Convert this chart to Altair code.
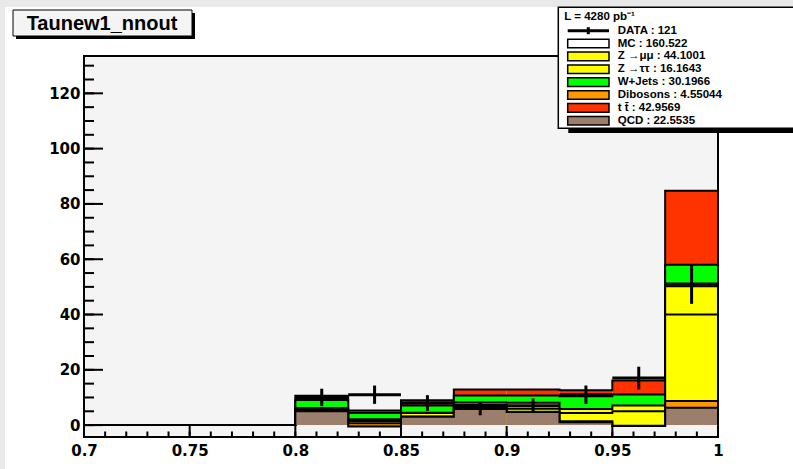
import altair as alt
import numpy as np
import pandas as pd

# ---- histogram binning (NN output, 0.025 wide bins) ----
bin_lo = [0.700, 0.725, 0.750, 0.775, 0.800, 0.825, 0.850, 0.875, 0.900, 0.925, 0.950, 0.975]
bin_hi = [0.725, 0.750, 0.775, 0.800, 0.825, 0.850, 0.875, 0.900, 0.925, 0.950, 0.975, 1.000]

# ---- MC contributions per bin, listed from the bottom of the stack upwards ----
qcd      = [0, 0, 0, 0, 5.0, -0.5, 3.0, 6.6, 4.7, 1.0, -0.3, 6.3]
dibosons = [0, 0, 0, 0, 0.1, 1.2, 0.1, 0.3, 0.1, 0.4, 0.1, 2.4]
z_mumu   = [0, 0, 0, 0, 0.4, 0.8, 1.3, 0.5, 1.1, 3.0, 5.2, 31.3]
z_tautau = [0, 0, 0, 0, 0.7, 0.6, 0.1, 0.8, 2.2, 1.4, 2.1, 10.2]
w_jets   = [0, 0, 0, 0, 2.9, 2.3, 2.6, 2.5, 2.6, 4.6, 4.0, 7.8]
ttbar    = [0, 0, 0, 0, 1.5, 0.9, 1.9, 2.2, 2.2, 2.2, 5.0, 26.8]

# ---- observed events per bin ----
data_counts = [0, 0, 0, 0, 10, 11, 8, 6, 7, 11, 17, 51]

# ---- stack colours (same order as the contributions) ----
stack_names = ["QCD", "Dibosons", "Z->mumu", "Z->tautau", "W+Jets", "ttbar"]
stack_colors = ["#9c7e6c", "#ff9900", "#ffff00", "#ffff00", "#00ff00", "#ff3300"]

# ---- legend text ----
lumi_text = "L = 4280 pb\u207b\u00b9"
legend_labels = ["DATA : 121", "MC : 160.522", "Z \u2192\u03bc\u03bc : 44.1001",
                 "Z \u2192\u03c4\u03c4 : 16.1643", "W+Jets : 30.1966",
                 "Dibosons : 4.55044", "t t\u0304 : 42.9569", "QCD : 22.5535"]
legend_fills = [None, "#ffffff", "#ffff00", "#ffff00", "#00ff00", "#ff9900", "#ff3300", "#9c7e6c"]
title_text = "Taunew1_nnout"

# ---- axis ticks ----
x_labels = [0.7, 0.75, 0.8, 0.85, 0.9, 0.95, 1.0]
x_minor = [round(0.70 + 0.01 * i, 2) for i in range(31)]
y_labels = [0, 20, 40, 60, 80, 100, 120]
y_minor = list(range(0, 135, 5))

# ---------------------------------------------------------------
W, H = 634, 381
FONT = "Liberation Sans"
AXIS_FONT = "DejaVu Sans"
FRAME_BG = "#f4f4f4"

xscale = alt.Scale(domain=[0.7, 1.0], nice=False, zero=False)
yscale = alt.Scale(domain=[-4.3, 133.5], nice=False, zero=False)
xaxis = alt.Axis(values=x_labels, format="~g", title=None, ticks=False, domain=False,
                 grid=False, labelFont=AXIS_FONT, labelFontWeight="bold", labelFontSize=15,
                 labelPadding=6, labelColor="black", labelFlush=False, labelOverlap=False)
yaxis = alt.Axis(values=y_labels, format="d", title=None, ticks=False, domain=False,
                 grid=False, labelFont=AXIS_FONT, labelFontWeight="bold", labelFontSize=15,
                 labelPadding=4, labelColor="black", labelFlush=False, labelOverlap=False)


def X(f):
    return alt.X(f, type="quantitative", scale=xscale, axis=xaxis)


def Y(f):
    return alt.Y(f, type="quantitative", scale=yscale, axis=yaxis)


one = pd.DataFrame({"k": [0]})
layers = []

# thin grey window edge along the top and left
layers.append(alt.Chart(one).mark_rect(fill="#e9e9e9").encode(
    x=alt.value(-84), x2=alt.value(W + 80), y=alt.value(-56), y2=alt.value(-49)))
layers.append(alt.Chart(one).mark_rect(fill="#e9e9e9").encode(
    x=alt.value(-84), x2=alt.value(-79), y=alt.value(-56), y2=alt.value(H + 40)))

# frame background
layers.append(alt.Chart(one).mark_rect(fill=FRAME_BG).encode(
    x=alt.value(0), x2=alt.value(W), y=alt.value(0), y2=alt.value(H)))

# cumulative stack, drawn from the full sum down to the first component
contribs = np.array([qcd, dibosons, z_mumu, z_tautau, w_jets, ttbar], dtype=float)
cums = np.cumsum(contribs, axis=0)
for k in range(len(stack_names) - 1, -1, -1):
    bars = pd.DataFrame({"lo": bin_lo, "hi": bin_hi, "top": cums[k], "base": 0.0})
    layers.append(alt.Chart(bars).mark_rect(fill=stack_colors[k], strokeWidth=0).encode(
        x=X("lo"), x2="hi", y=Y("top"), y2="base"))
    outline = pd.DataFrame({"edge": bin_lo + [bin_hi[-1]],
                            "top": list(cums[k]) + [cums[k][-1]]})
    layers.append(alt.Chart(outline).mark_line(
        interpolate="step-after", color="black", strokeWidth=2,
        strokeJoin="miter", strokeCap="square").encode(x=X("edge"), y=Y("top")))

# data with Poisson error bars
dd = pd.DataFrame({"lo": bin_lo, "hi": bin_hi, "n": data_counts})
dd = dd[dd["n"] > 0].copy()
dd["mid"] = (dd["lo"] + dd["hi"]) / 2
dd["elo"] = dd["n"] - np.sqrt(dd["n"])
dd["ehi"] = dd["n"] + np.sqrt(dd["n"])
layers.append(alt.Chart(dd).mark_rule(color="black", strokeWidth=3).encode(
    x=X("lo"), x2="hi", y=Y("n")))
layers.append(alt.Chart(dd).mark_rule(color="black", strokeWidth=3).encode(
    x=X("mid"), y=Y("elo"), y2="ehi"))

# tick marks pointing into the frame
txm = pd.DataFrame({"v": x_minor})
txM = pd.DataFrame({"v": x_labels})
tym = pd.DataFrame({"v": y_minor})
tyM = pd.DataFrame({"v": y_labels})
layers.append(alt.Chart(txm).mark_rule(color="black", strokeWidth=2).encode(
    x=X("v"), y=alt.value(H), y2=alt.value(H - 5.5)))
layers.append(alt.Chart(txM).mark_rule(color="black", strokeWidth=2).encode(
    x=X("v"), y=alt.value(H), y2=alt.value(H - 11)))
layers.append(alt.Chart(tym).mark_rule(color="black", strokeWidth=2).encode(
    y=Y("v"), x=alt.value(0), x2=alt.value(10)))
layers.append(alt.Chart(tyM).mark_rule(color="black", strokeWidth=2).encode(
    y=Y("v"), x=alt.value(0), x2=alt.value(19)))

# frame border
layers.append(alt.Chart(one).mark_rect(fill=None, stroke="black", strokeWidth=2).encode(
    x=alt.value(0), x2=alt.value(W), y=alt.value(0), y2=alt.value(H)))

# title box with drop shadow
layers.append(alt.Chart(one).mark_rect(fill="black").encode(
    x=alt.value(-68), x2=alt.value(111), y=alt.value(-43), y2=alt.value(-17)))
layers.append(alt.Chart(one).mark_rect(fill="#f4f4f4", stroke="black", strokeWidth=1).encode(
    x=alt.value(-71), x2=alt.value(108), y=alt.value(-46), y2=alt.value(-20)))
layers.append(alt.Chart(one).mark_text(font=FONT, fontWeight="bold", fontSize=20,
                                       align="center", baseline="middle", color="black").encode(
    x=alt.value(18), y=alt.value(-32.5), text=alt.value(title_text)))

main = alt.layer(*layers)

# ---- legend box (pixel placement of its own) ----
LX0, LY0 = 474.3, -48.7
row_y0, row_dy = -25.3, 12.86
leg = pd.DataFrame({"label": legend_labels, "fill": legend_fills})
leg["i"] = range(len(leg))
leg["yc"] = row_y0 + row_dy * leg["i"]
leg["yt"] = leg["yc"] - 4.3
leg["yb"] = leg["yc"] + 4.3
sw = leg[leg["fill"].notna()]

leg_layers = [
    alt.Chart(one).mark_rect(fill="black").encode(
        x=alt.value(LX0 + 10), x2=alt.value(W + 80), y=alt.value(72.3), y2=alt.value(77)),
    alt.Chart(one).mark_rect(fill="white", stroke="black", strokeWidth=1.5).encode(
        x=alt.value(LX0), x2=alt.value(W + 80), y=alt.value(LY0), y2=alt.value(72.3)),
    alt.Chart(one).mark_text(font=FONT, fontWeight="bold", fontSize=11.5, align="left",
                             baseline="middle", color="black").encode(
        x=alt.value(480.3), y=alt.value(-39.3), text=alt.value(lumi_text)),
    alt.Chart(sw).mark_rect(stroke="black", strokeWidth=1.5).encode(
        x=alt.value(483.7), x2=alt.value(525),
        y=alt.Y("yt:Q", scale=None, axis=None), y2="yb:Q",
        fill=alt.Color("fill:N", scale=None)),
    alt.Chart(one).mark_rule(color="black", strokeWidth=3).encode(
        x=alt.value(483.7), x2=alt.value(525), y=alt.value(row_y0)),
    alt.Chart(one).mark_rule(color="black", strokeWidth=3).encode(
        x=alt.value(504.3), y=alt.value(row_y0 - 3.5), y2=alt.value(row_y0 + 3.5)),
    alt.Chart(leg).mark_text(font=FONT, fontWeight="bold", fontSize=11.5, align="left",
                             baseline="middle", color="black").encode(
        x=alt.value(533.7), y=alt.Y("yc:Q", scale=None, axis=None), text="label:N"),
]
legend = alt.layer(*leg_layers)

chart = alt.layer(main, legend).resolve_scale(x="independent", y="independent").properties(
    width=W, height=H, background="white", autosize="none",
    padding={"left": 84, "top": 56, "right": 793 - 84 - W, "bottom": 469 - 56 - H},
).configure_view(stroke=None)

chart.save("out.html", embed_options={"renderer": "svg", "actions": False})
